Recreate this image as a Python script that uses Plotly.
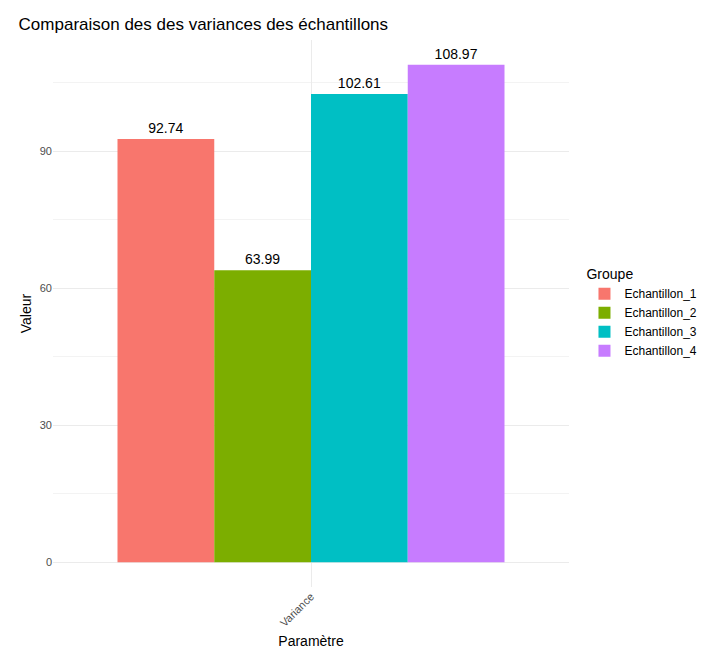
import plotly.graph_objects as go

groups = ["Echantillon_1", "Echantillon_2", "Echantillon_3", "Echantillon_4"]
values = [92.74, 63.99, 102.61, 108.97]
colors = ["#F8766D", "#7CAE00", "#00BFC4", "#C77CFF"]
param = ["Variance"]

fig = go.Figure()
for g, v, c in zip(groups, values, colors):
    fig.add_trace(go.Bar(
        x=param, y=[v], name=g, marker_color=c, marker_line_width=0,
        text=[f"{v:.2f}"], textposition="outside", cliponaxis=False,
        textfont=dict(size=14, color="black"),
    ))

fig.update_layout(
    width=706, height=655,
    paper_bgcolor="white", plot_bgcolor="white",
    font=dict(family="Liberation Sans, Arial, sans-serif"),
    margin=dict(l=45, r=134, t=32, b=76),
    barmode="group", bargap=0.1, bargroupgap=0,
    title=dict(text="Comparaison des des variances des échantillons",
               x=0.015, xanchor="left", y=0.985, yanchor="top",
               font=dict(size=17, color="black")),
    legend=dict(title=dict(text="Groupe", font=dict(size=14, color="black")),
                x=1.03, y=0.5, yanchor="middle", font=dict(size=12, color="black"),
                itemwidth=30),
    xaxis=dict(title=dict(text="Paramètre", font=dict(size=14, color="black"), standoff=8),
               tickangle=-45, tickfont=dict(size=11, color="#4D4D4D"),
               showgrid=True, gridcolor="#EBEBEB", range=[-0.6, 0.6], zeroline=False),
    yaxis=dict(title=dict(text="Valeur", font=dict(size=14, color="black"), standoff=4),
               range=[-5.45, 114.42], tickvals=[0, 30, 60, 90],
               tickfont=dict(size=11, color="#4D4D4D"),
               showgrid=True, gridcolor="#EBEBEB", zeroline=False,
               minor=dict(tickvals=[15, 45, 75, 105], showgrid=True, gridcolor="#F3F3F3")),
)

fig.write_html("out.html")
